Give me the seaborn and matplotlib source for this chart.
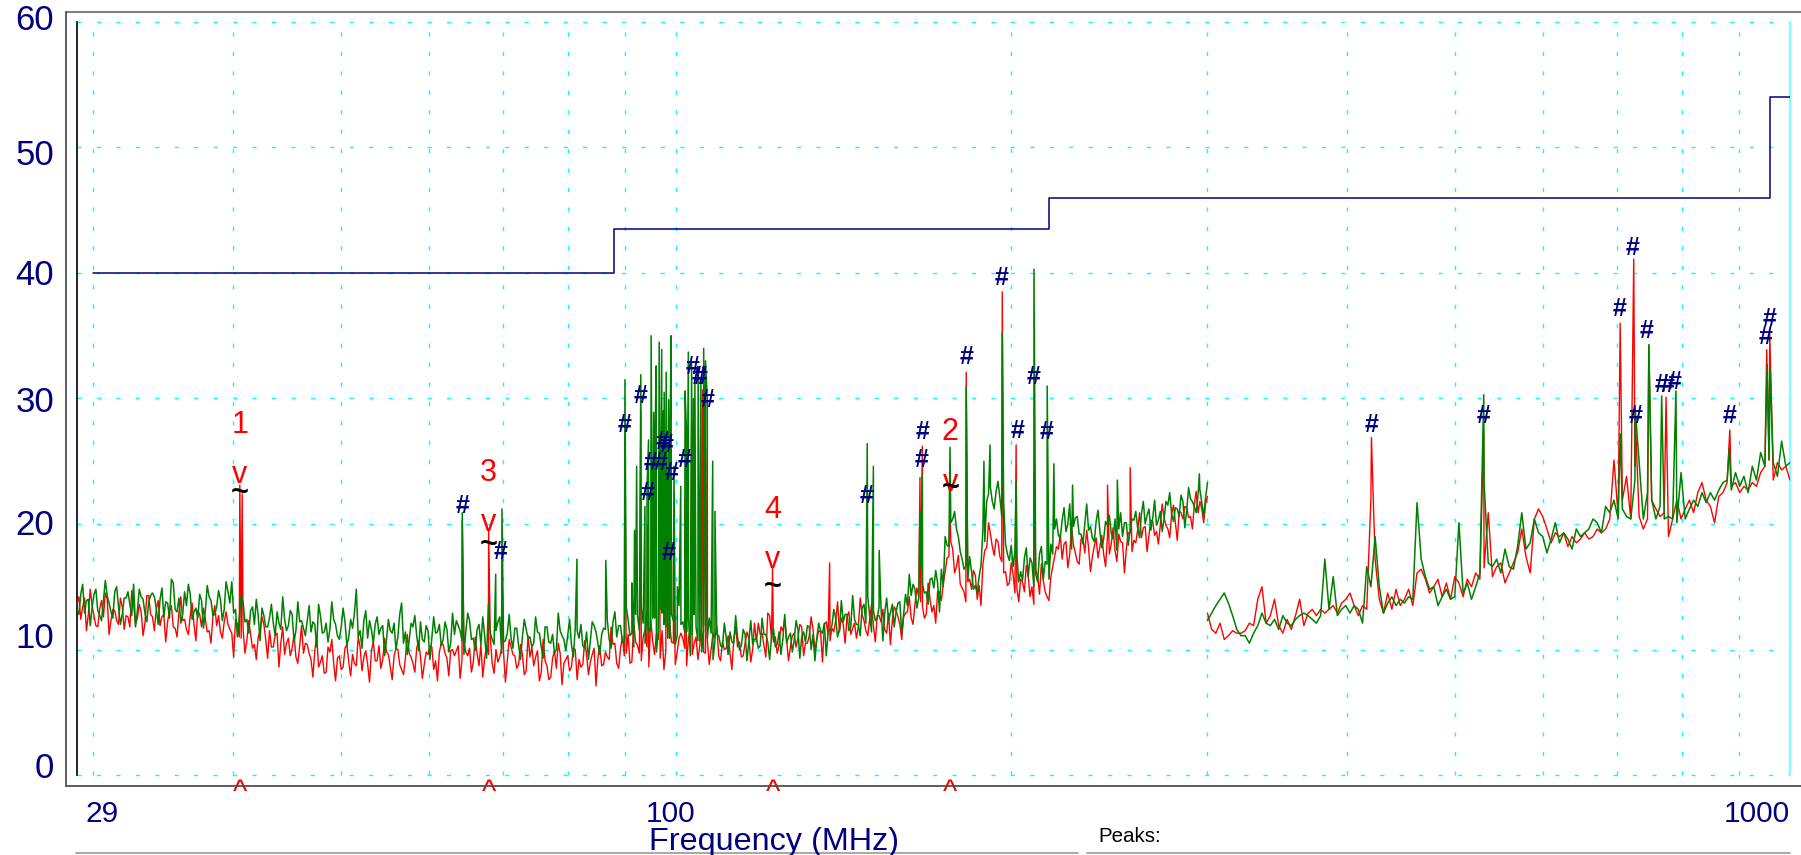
import numpy as np
import pandas as pd
import matplotlib
matplotlib.use("Agg")
import matplotlib.pyplot as plt
from matplotlib.lines import Line2D
import seaborn as sns

# limit line (steps)
limit_freqs = [30, 88, 216, 960, 1000]
limit_levels = [40, 43.5, 46, 54, 54]

# sweep 1: 29-300 MHz, log spaced points (even and odd samples)
red_band1_even = [
    13.6, 12.4, 14.1, 12.8, 13.5, 11.9, 13.2, 12.6, 14.0, 12.3, 13.1, 12.0, 13.4, 12.7, 11.8, 13.6, 12.5, 13.0, 12.1, 14.3,
    12.6, 13.2, 11.9, 12.8, 12.2, 13.5, 11.7, 12.9, 12.3, 11.6, 12.7, 12.0, 13.1, 11.8, 12.4, 11.5, 12.6, 11.9, 11.4, 12.2,
    12.0, 11.3, 12.4, 11.0, 11.6, 10.7, 11.2, 10.4, 11.0, 12.6, 10.8, 11.5, 10.2, 11.3, 10.5, 9.6, 10.9, 10.1, 9.4, 10.3,
    9.7, 10.4, 9.2, 9.9, 8.6, 9.5, 8.2, 9.8, 8.9, 9.3, 8.4, 10.1, 9.0, 9.6, 8.7, 10.2, 9.4, 8.8, 9.9, 9.1,
    10.3, 9.2, 9.8, 8.6, 9.5, 10.0, 8.4, 9.3, 9.7, 8.9, 10.1, 9.4, 8.8, 9.6, 10.2, 9.1, 9.8, 10.4, 9.3, 9.9,
    9.5, 10.3, 9.2, 9.8, 10.1, 9.0, 9.7, 10.4, 9.3, 9.6, 8.9, 10.0, 9.4, 9.8, 9.1, 10.2, 9.5, 8.8, 9.6, 8.3,
    9.4, 8.7, 9.9, 8.2, 9.1, 7.6, 9.3, 8.5, 9.7, 8.9, 9.5, 8.6, 10.0, 9.2, 8.8, 9.6, 9.0, 10.1, 9.3, 8.7,
    9.8, 9.2, 10.4, 8.9, 10.1, 9.5, 11.2, 9.0, 10.6, 9.7, 11.0, 10.2, 12.4, 9.6, 10.8, 11.5, 9.9, 12.1, 10.5, 9.8,
    11.3, 10.1, 10.9, 9.6, 11.0, 10.3, 9.8, 10.7, 10.0, 10.9, 9.5, 10.6, 10.1, 9.7, 10.8, 10.2, 9.4, 10.5, 10.9, 10.0,
    10.6, 11.2, 10.3, 12.9, 10.8, 11.0, 10.4, 11.5, 10.7, 10.2, 11.3, 10.9, 11.8, 10.5, 11.1, 11.6, 10.8, 11.4, 12.0, 11.2,
    11.7, 12.3, 11.4, 12.0, 12.6, 11.2, 12.1, 11.8, 12.8, 11.5, 12.4, 11.9, 12.7, 12.2, 11.6, 12.9, 12.3, 13.1, 12.0, 12.6,
    13.0, 12.5, 13.6, 14.2, 13.4, 12.8, 14.0, 13.5, 14.6, 13.9, 16.2, 17.4, 18.0, 16.6, 15.2, 14.6, 15.4, 14.8, 15.9, 15.1,
    16.8, 18.1, 19.2, 17.5, 18.6, 17.0, 16.2, 15.3, 16.0, 14.9, 15.6, 14.6, 15.9, 15.0, 16.3, 14.4, 15.5, 14.2, 15.8, 17.4,
    18.0, 17.2, 18.6, 17.6, 18.3, 17.0, 18.8, 17.7, 18.1, 17.4, 18.9, 18.2, 17.6, 19.0, 18.4, 17.9, 19.2, 18.5, 18.0, 19.3,
    18.7, 19.5, 18.9, 19.8, 19.1, 20.2, 19.4, 19.9, 20.5, 19.6, 20.8, 20.1, 21.0, 20.4, 21.3, 20.6, 21.5, 20.9, 21.2, 21.6,
]
red_band1_odd = [
    14.2, 13.4, 11.5, 14.8, 12.7, 11.8, 13.9, 14.5, 11.2, 13.2, 12.3, 14.1, 11.6, 12.6, 14.7, 12.0, 13.6, 11.1, 14.3, 12.8,
    11.5, 13.9, 12.6, 10.6, 13.1, 11.8, 11.0, 14.2, 12.4, 11.2, 13.7, 10.7, 12.8, 13.3, 11.4, 10.5, 13.5, 12.7, 10.9, 13.0,
    11.6, 9.4, 12.0, 10.9, 9.7, 12.3, 10.1, 9.2, 11.5, 12.0, 9.3, 10.2, 11.1, 8.6, 11.8, 10.5, 9.5, 11.2, 8.9, 11.9,
    10.5, 9.7, 7.8, 11.1, 9.0, 8.1, 10.2, 10.8, 7.5, 9.5, 8.6, 10.4, 7.9, 8.9, 11.0, 8.3, 9.9, 7.4, 10.6, 9.1,
    8.5, 10.9, 9.6, 7.6, 10.1, 8.8, 8.0, 11.2, 9.4, 8.2, 10.7, 7.7, 9.8, 10.3, 8.4, 7.5, 10.5, 9.7, 7.9, 10.0,
    9.9, 7.7, 10.6, 9.5, 8.2, 11.0, 8.7, 7.8, 10.3, 10.9, 8.1, 9.0, 10.1, 7.4, 10.8, 9.6, 8.5, 10.4, 8.0, 11.1,
    10.2, 9.4, 7.5, 10.8, 8.7, 7.8, 9.9, 10.5, 7.2, 9.2, 8.3, 10.1, 7.6, 8.6, 10.7, 8.0, 9.6, 7.1, 10.3, 8.8,
    9.4, 11.8, 10.5, 8.5, 11.0, 9.7, 8.9, 12.1, 10.3, 9.1, 11.6, 8.6, 10.7, 11.2, 9.3, 8.4, 11.4, 10.6, 8.8, 10.9,
    10.9, 8.7, 11.6, 10.5, 9.2, 12.0, 9.7, 8.8, 11.3, 11.9, 9.1, 10.0, 11.1, 8.4, 11.8, 10.6, 9.5, 11.4, 9.0, 12.1,
    12.1, 11.3, 9.4, 12.7, 10.6, 9.7, 11.8, 12.4, 9.1, 11.1, 10.2, 12.0, 9.5, 10.5, 12.6, 9.9, 11.5, 9.0, 12.2, 10.7,
    11.4, 13.8, 12.5, 10.5, 13.0, 11.7, 10.9, 14.1, 12.3, 11.1, 13.6, 10.6, 12.7, 13.2, 11.3, 10.4, 13.4, 12.6, 10.8, 12.9,
    14.2, 12.0, 14.9, 13.8, 12.5, 15.3, 13.0, 12.1, 14.6, 15.2, 17.3, 18.6, 16.1, 17.5, 14.9, 13.8, 15.6, 16.3, 14.0, 13.5,
    17.9, 20.1, 18.2, 18.8, 17.4, 16.1, 15.1, 16.9, 14.5, 13.8, 15.4, 16.7, 14.2, 13.6, 15.9, 16.8, 14.6, 13.9, 16.6, 18.2,
    19.2, 18.4, 16.5, 19.8, 17.7, 16.8, 18.9, 19.5, 16.2, 18.2, 17.3, 19.1, 16.6, 17.6, 19.7, 17.0, 18.6, 16.1, 19.3, 17.8,
    18.5, 20.9, 19.7, 17.8, 20.3, 19.1, 18.4, 21.6, 19.9, 18.9, 21.5, 18.7, 20.9, 21.4, 20.5, 19.6, 22.6, 21.8, 20.1, 22.2,
]
green_band1_even = [
    13.2, 14.4, 12.9, 14.0, 13.3, 14.8, 12.7, 13.9, 14.3, 13.0, 14.6, 13.4, 12.8, 14.1, 13.6, 15.2, 13.1, 14.2, 12.9, 13.8,
    14.5, 13.3, 14.0, 12.6, 13.7, 15.6, 13.2, 14.1, 12.8, 13.5, 14.4, 13.0, 12.5, 13.9, 13.1, 14.2, 12.7, 13.4, 14.0, 13.2,
    14.6, 15.4, 13.2, 12.6, 13.8, 12.4, 13.1, 12.0, 12.7, 13.3, 11.8, 12.5, 12.1, 13.0, 11.6, 12.4, 11.9, 12.8, 11.5, 12.2,
    11.7, 12.3, 11.4, 12.0, 13.6, 11.3, 12.1, 11.6, 12.4, 11.1, 11.8, 12.2, 11.0, 11.7, 14.8, 11.5, 12.3, 10.9, 11.6, 12.0,
    11.2, 11.9, 10.8, 11.5, 12.1, 11.0, 13.7, 11.4, 10.7, 11.8, 11.1, 12.2, 10.6, 11.5, 10.9, 11.3, 12.0, 10.8, 11.6, 10.5,
    11.2, 11.9, 10.7, 11.4, 12.3, 10.9, 11.6, 10.4, 11.1, 13.6, 10.8, 11.5, 12.6, 10.6, 11.3, 10.9, 11.7, 10.3, 11.0, 11.6,
    11.0, 10.5, 11.4, 10.2, 11.8, 10.6, 11.2, 10.0, 11.5, 10.8, 11.1, 10.4, 11.7, 10.9, 10.3, 11.4, 10.7, 11.9, 10.5, 11.2,
    11.6, 10.8, 12.2, 11.0, 11.9, 10.6, 12.4, 11.3, 12.8, 11.5, 12.1, 13.2, 11.7, 12.5, 11.4, 12.9, 11.8, 10.9, 12.3, 11.1,
    12.0, 11.4, 12.6, 11.2, 11.8, 10.7, 11.5, 10.9, 11.3, 10.6, 11.1, 10.2, 10.9, 11.4, 10.5, 11.0, 10.3, 11.2, 10.7, 10.4,
    10.9, 10.3, 11.2, 10.6, 11.0, 10.2, 11.4, 10.8, 10.5, 11.3, 10.7, 11.6, 11.0, 10.6, 11.8, 11.2, 10.9, 11.5, 12.1, 11.4,
    11.9, 12.5, 11.6, 12.2, 12.8, 11.8, 12.4, 12.0, 13.3, 12.1, 12.7, 13.1, 12.5, 13.4, 12.9, 12.3, 13.6, 13.0, 13.8, 12.8,
    13.5, 14.3, 14.8, 14.1, 15.2, 14.6, 15.6, 14.9, 15.3, 16.4, 19.0, 18.2, 20.4, 19.6, 17.8, 16.4, 15.6, 16.2, 15.1, 15.8,
    19.5, 21.8, 22.9, 21.2, 23.4, 20.6, 18.4, 17.1, 16.6, 17.5, 16.2, 17.3, 15.8, 16.9, 16.0, 17.6, 15.6, 16.8, 18.4, 19.6,
    19.1, 20.3, 19.4, 21.6, 19.8, 20.6, 19.2, 20.0, 19.5, 18.9, 20.2, 19.4, 18.8, 19.9, 19.3, 20.4, 19.6, 19.0, 20.1, 19.5,
    20.3, 19.7, 20.8, 20.0, 21.2, 20.5, 19.9, 21.0, 20.4, 21.5, 20.8, 21.3, 20.6, 21.8, 21.1, 22.0, 21.4, 22.3, 21.7, 22.1,
]
green_band1_odd = [
    12.8, 15.2, 13.9, 11.9, 14.4, 13.1, 12.3, 15.5, 13.7, 12.5, 15.0, 12.0, 14.1, 14.6, 12.7, 11.8, 14.8, 14.0, 12.2, 14.3,
    14.2, 12.0, 14.9, 13.8, 12.5, 15.3, 13.0, 12.1, 14.6, 15.2, 12.4, 13.3, 14.4, 11.7, 15.1, 13.9, 12.8, 14.7, 12.3, 15.4,
    13.7, 12.9, 11.0, 14.3, 12.2, 11.3, 13.4, 14.0, 10.7, 12.7, 11.8, 13.6, 11.1, 12.1, 14.2, 11.5, 13.1, 10.6, 13.8, 12.3,
    11.1, 13.5, 12.2, 10.2, 12.7, 11.4, 10.6, 13.8, 12.0, 10.8, 13.3, 10.3, 12.4, 12.9, 11.0, 10.1, 13.1, 12.3, 10.5, 12.6,
    11.7, 9.5, 12.4, 11.3, 10.0, 12.8, 10.5, 9.6, 12.1, 12.7, 9.9, 10.8, 11.9, 9.2, 12.6, 11.4, 10.3, 12.2, 9.8, 12.9,
    12.3, 11.5, 9.6, 12.9, 10.8, 9.9, 12.0, 12.6, 9.3, 11.3, 10.4, 12.2, 9.7, 10.7, 12.8, 10.1, 11.7, 9.2, 12.4, 10.9,
    10.2, 12.6, 11.3, 9.3, 11.8, 10.5, 9.7, 12.9, 11.1, 9.9, 12.4, 9.4, 11.5, 12.0, 10.1, 9.2, 12.2, 11.4, 9.6, 11.7,
    12.3, 10.1, 13.0, 11.9, 10.6, 13.4, 11.1, 10.2, 12.7, 13.3, 10.5, 11.4, 12.5, 9.8, 13.2, 12.0, 10.9, 12.8, 10.4, 13.5,
    12.2, 11.4, 9.5, 12.8, 10.7, 9.8, 11.9, 12.5, 9.2, 11.2, 10.3, 12.1, 9.6, 10.6, 12.7, 10.0, 11.6, 9.1, 12.3, 10.8,
    10.1, 12.5, 11.2, 9.2, 11.7, 10.4, 9.6, 12.8, 11.0, 9.8, 12.3, 9.3, 11.4, 11.9, 10.0, 9.1, 12.1, 11.3, 9.5, 11.6,
    13.2, 11.0, 13.9, 12.8, 11.5, 14.3, 12.0, 11.1, 13.6, 14.2, 11.4, 12.3, 13.4, 10.7, 14.1, 12.9, 11.8, 13.7, 11.3, 14.4,
    16.0, 15.2, 13.3, 16.6, 14.5, 13.6, 15.7, 16.3, 13.0, 15.0, 18.3, 20.1, 21.0, 19.0, 17.2, 16.6, 17.4, 14.8, 14.5, 16.7,
    18.6, 22.4, 21.8, 22.6, 22.1, 21.7, 17.6, 18.3, 17.9, 15.4, 15.5, 18.1, 17.3, 15.0, 15.4, 18.2, 17.0, 15.6, 17.6, 20.4,
    18.9, 21.3, 20.0, 18.0, 20.5, 19.2, 18.4, 21.6, 19.8, 18.6, 21.1, 18.1, 20.2, 20.7, 18.8, 17.9, 20.9, 20.1, 18.3, 20.4,
    21.0, 18.9, 21.8, 20.7, 19.5, 21.9, 20.3, 19.4, 21.8, 22.5, 20.2, 21.2, 22.3, 19.7, 22.9, 21.8, 20.9, 22.7, 20.6, 23.3,
]

# sweep 2: 300-1000 MHz
red_band2 = [
    12.9, 11.6, 11.3, 12.1, 10.8, 11.1, 11.5, 11.3, 11.3, 11.5, 12.1, 11.9, 14.0, 15.0, 12.1, 12.7, 14.0, 11.9, 11.3, 12.4,
    11.6, 12.7, 14.0, 11.9, 12.9, 13.2, 12.7, 13.2, 12.9, 13.2, 13.5, 12.9, 13.7, 14.0, 14.5, 13.5, 12.7, 13.5, 13.2, 22.0,
    17.2, 14.0, 12.9, 14.5, 13.2, 14.8, 13.5, 14.0, 14.8, 13.5, 16.1, 16.4, 15.6, 14.5, 15.0, 15.6, 14.2, 15.3, 14.0, 15.8,
    15.3, 14.2, 15.6, 15.0, 16.1, 15.6, 16.5, 20.9, 15.8, 16.6, 16.9, 15.3, 16.1, 16.9, 17.7, 19.6, 17.4, 16.1, 20.4, 21.2,
    20.6, 19.6, 18.5, 19.3, 19.0, 19.3, 18.2, 19.0, 18.5, 18.8, 19.3, 18.8, 19.0, 19.6, 19.3, 19.6, 20.4, 25.1, 20.6, 21.9,
    23.8, 20.4, 24.6, 20.6, 19.6, 20.4, 21.9, 21.2, 20.6, 20.9, 19.0, 20.4, 21.9, 20.4, 21.2, 21.9, 20.9, 22.5, 23.3, 21.9,
    21.4, 20.1, 22.2, 22.5, 23.3, 23.0, 23.3, 22.5, 23.0, 22.7, 23.3, 23.0, 24.1, 24.6, 25.1, 23.5, 24.9, 24.3, 24.6, 23.5,
]
green_band2 = [
    12.3, 12.9, 13.5, 14.0, 14.5, 13.7, 12.7, 11.6, 11.1, 11.1, 10.5, 11.3, 11.9, 12.9, 12.1, 11.9, 12.4, 11.6, 12.7, 12.1,
    11.9, 12.4, 12.7, 12.9, 12.7, 12.4, 12.1, 12.7, 17.2, 13.2, 15.8, 12.7, 13.2, 13.5, 12.9, 13.5, 13.2, 12.1, 16.6, 15.0,
    19.0, 15.0, 12.9, 13.7, 14.2, 13.5, 14.0, 13.7, 14.2, 14.0, 21.7, 17.2, 15.8, 14.8, 15.0, 13.5, 14.2, 14.8, 14.0, 14.2,
    20.1, 14.5, 15.3, 14.0, 15.0, 16.1, 23.3, 16.9, 16.6, 17.2, 16.1, 18.0, 16.6, 16.4, 18.2, 20.9, 18.0, 18.5, 20.4, 19.3,
    19.0, 17.7, 18.8, 20.1, 18.5, 19.3, 18.8, 18.0, 19.6, 19.0, 19.3, 19.6, 20.4, 20.1, 19.3, 21.4, 20.9, 21.9, 20.4, 21.2,
    20.6, 20.4, 23.5, 24.9, 20.4, 22.5, 21.9, 20.4, 21.4, 20.4, 20.6, 20.4, 20.1, 24.1, 20.4, 21.2, 21.9, 21.4, 22.5, 21.7,
    22.5, 21.9, 22.7, 23.3, 23.5, 22.7, 24.1, 23.0, 23.8, 22.5, 24.6, 23.5, 25.7, 24.6, 25.1, 24.9, 23.8, 26.6, 24.6, 24.9,
]

# narrowband emissions sitting on top of the sweeps
red_spike_freqs = [40.6, 40.8, 64.3, 67.9, 69.8,
                   90.0, 93.0, 94.3, 96.6, 98.0, 99.5, 101.9, 103.3, 105.7, 106.7,
                   122.1, 137.4, 165.6, 166.4, 176.2, 182.2, 196.3, 202.0, 209.6, 244.0, 255.7,
                   421, 531, 704, 724, 727, 747, 774, 883, 953, 959]
red_spike_levels = [23.1, 22.4, 20.3, 19.6, 16.6,
                    26.5, 29.0, 20.0, 24.0, 22.0, 18.0, 22.0, 28.0, 30.7, 26.0,
                    16.5, 16.9, 23.7, 26.2, 21.0, 32.1, 38.5, 26.3, 24.0, 23.1, 24.5,
                    26.9, 27.4, 36.0, 41.1, 27.5, 34.2, 30.1, 27.5, 33.9, 35.2]
green_spike_freqs = [64.3, 68.9, 69.8, 81.5, 86.5,
                     90.0, 91.3, 91.8, 92.2, 93.0, 93.8, 94.2, 94.5, 95.0, 95.5, 95.8, 96.0, 96.6, 97.1,
                     97.4, 97.6, 98.0, 98.5, 98.8, 99.0, 99.6, 100.3, 101.0, 101.9, 102.2, 102.6, 103.3,
                     103.7, 104.0, 104.7, 105.3, 105.9, 106.3, 106.7, 107.9, 108.4,
                     148.5, 150.4, 152.2, 165.6, 166.4, 176.2, 182.2, 189.0, 191.4, 196.3, 202.0,
                     209.6, 215.4, 218.4, 227.0, 249.0, 295.0,
                     531, 704, 726, 747, 767, 790, 882, 954, 960]
green_spike_levels = [20.9, 16.0, 21.2, 17.2, 17.1,
                      31.5, 15.3, 19.5, 24.6, 31.9, 21.4, 23.0, 26.7, 35.0, 28.9, 27.5, 32.6, 34.5, 33.9,
                      29.0, 30.5, 32.1, 29.9, 27.0, 35.0, 24.6, 15.0, 23.0, 30.6, 27.5, 33.7, 32.9,
                      30.0, 31.3, 32.3, 31.5, 34.0, 33.0, 29.9, 25.0, 21.0,
                      26.4, 24.6, 17.9, 20.9, 23.9, 26.1, 30.9, 25.0, 26.3, 35.2, 23.3,
                      40.3, 31.0, 24.8, 23.1, 23.5, 24.0,
                      30.3, 27.2, 29.3, 34.3, 30.2, 30.6, 26.0, 32.7, 32.3]

# '#' peak flags
hash_freqs = [64.4, 69.6, 90.0, 92.9, 94.8, 94.4, 96.8, 97.2, 98.0, 99.2, 98.4, 101.9,
              103.4, 104.7, 105.3, 106.7, 148.4, 166.0, 166.6, 182.4, 196.2, 202.4, 209.6, 215.3,
              421, 531, 703, 722, 727, 744, 767, 776, 787, 883, 951, 958]
hash_levels = [21.4, 17.8, 27.9, 30.2, 24.9, 22.5, 24.9, 26.5, 26.3, 24.1, 17.7, 25.1,
               32.5, 31.7, 31.7, 29.9, 22.2, 25.1, 27.3, 33.3, 39.6, 27.4, 31.7, 27.3,
               27.9, 28.6, 37.1, 42.0, 28.6, 35.4, 31.1, 31.1, 31.3, 28.6, 34.9, 36.3]

# numbered markers
marker_labels = ['1', '2', '3', '4']
marker_freqs = [40.6, 176.3, 67.9, 122.1]
marker_peaks = [23.9, 23.3, 20.1, 17.1]
marker_qp = [22.5, 22.9, 18.3, 15.0]

grid_freqs = [30, 40, 50, 60, 70, 80, 90, 100, 200, 300, 400, 500, 600, 700, 800, 900]
x_label_freqs = [29, 100, 1000]
x_labels = ['29', '100', '1000']
y_label_values = [0, 10, 20, 30, 40, 50, 60]
y_label_shift = [5, 8, -1, -3, -2, -6, 1]   # points, the labels do not sit exactly on the grid


def trace_frame(band1_even, band1_odd, band2, spike_f, spike_l):
    band1 = np.column_stack([band1_even, band1_odd]).ravel()
    f1 = np.geomspace(29, 300, len(band1))
    f2 = np.geomspace(300, 1000, len(band2))
    sf = np.array(spike_f, dtype=float)
    df = pd.DataFrame({
        'freq': np.concatenate([f1, f2, sf]),
        'level': np.concatenate([band1, band2, spike_l]),
        'band': ['b1'] * len(f1) + ['b2'] * len(f2) + list(np.where(sf < 300, 'b1', 'b2')),
    })
    return df.sort_values('freq').reset_index(drop=True)


red_df = trace_frame(red_band1_even, red_band1_odd, red_band2, red_spike_freqs, red_spike_levels)
green_df = trace_frame(green_band1_even, green_band1_odd, green_band2, green_spike_freqs, green_spike_levels)

sns.set_style('white')
plt.rcParams['font.family'] = ['Liberation Sans', 'DejaVu Sans']

W, H = 1801, 855
NAVY = '#000080'
fig = plt.figure(figsize=(W / 100, H / 100), dpi=100)
ax = fig.add_axes([77 / W, 1 - 775 / H, (1790 - 77) / W, (775 - 22) / H])
ax.set_xscale('log')

sns.lineplot(data=red_df, x='freq', y='level', units='band', estimator=None,
             color='#ff0000', lw=1.0, ax=ax, legend=False, zorder=3)
sns.lineplot(data=green_df, x='freq', y='level', units='band', estimator=None,
             color='#008000', lw=1.1, ax=ax, legend=False, zorder=4)
sns.lineplot(x=limit_freqs, y=limit_levels, drawstyle='steps-post',
             color=NAVY, lw=1.1, ax=ax, zorder=5)

ax.set_xlim(29, 1000)
ax.set_ylim(0, 60)
ax.minorticks_off()
ax.set_xticks(grid_freqs, labels=[''] * len(grid_freqs))
ax.set_yticks(y_label_values, labels=[''] * len(y_label_values))
ax.tick_params(axis='both', length=0)
ax.set_xlabel('')
ax.set_ylabel('')
ax.set_axisbelow(True)
ax.grid(True, color='#00ffff', linestyle=(0, (3, 11)), lw=1.0)
for gl in ax.get_xgridlines() + ax.get_ygridlines():
    gl.set_clip_on(False)

for side in ['top', 'right', 'bottom']:
    ax.spines[side].set_visible(False)
ax.spines['left'].set_color('black')
ax.spines['left'].set_linewidth(1.2)
ax.axvline(1000, color='#80ffff', lw=1.6, clip_on=False, zorder=2)

# y labels
for v, dy in zip(y_label_values, y_label_shift):
    ax.annotate(str(v), xy=(0, v), xycoords=('axes fraction', 'data'),
                xytext=(-16.5, dy), textcoords='offset points',
                ha='right', va='center', fontsize=25, color=NAVY)

# x labels
aligns = ['left', 'center', 'right']
offsets = [6, -4, 0]
for f, lab, ha, dx in zip(x_label_freqs, x_labels, aligns, offsets):
    ax.annotate(lab, xy=(f, 0), xycoords=('data', 'axes fraction'),
                xytext=(dx, -28), textcoords='offset points',
                ha=ha, va='center', fontsize=21.5, color=NAVY)

# peak flags
for f, lv in zip(hash_freqs, hash_levels):
    ax.text(f, lv, '#', ha='center', va='center', fontsize=18,
            fontweight='bold', color=NAVY, zorder=6)

# numbered markers
for lab, f, pk, qp in zip(marker_labels, marker_freqs, marker_peaks, marker_qp):
    ax.text(f, pk + 4.0, lab, ha='center', va='center', fontsize=22, color='red', zorder=7)
    ax.text(f, pk, 'v', ha='center', va='center', fontsize=22, color='red', zorder=7)
    ax.text(f, qp, '~', ha='center', va='center', fontsize=22, color='black',
            fontweight='bold', zorder=7)
    ax.annotate('^', xy=(f, 0), xycoords=('data', 'axes fraction'),
                xytext=(0, -18.5), textcoords='offset points',
                ha='center', va='baseline', fontsize=22, color='red')

# frame lines around the plot
def px_line(x0, y0, x1, y1, color, lw):
    fig.add_artist(Line2D([x0 / W, x1 / W], [1 - y0 / H, 1 - y1 / H],
                          transform=fig.transFigure, color=color, lw=lw))

px_line(66, 12, W, 12, '#808080', 1.5)
px_line(66, 12, 66, 786, '#505050', 1.3)
px_line(66, 786, W, 786, '#505050', 1.3)
px_line(76, 853, 1078, 853, '#a0a0a0', 1.3)
px_line(1087, 853, 1790, 853, '#a0a0a0', 1.3)

fig.text(774 / W, 1 - 842 / H, 'Frequency (MHz)', ha='center', va='center',
         fontsize=23.3, color=NAVY)
fig.text(1098 / W, 1 - 836 / H, 'Peaks:', ha='left', va='center',
         fontsize=14.8, color='black')

fig.savefig('out.png', dpi=100)
